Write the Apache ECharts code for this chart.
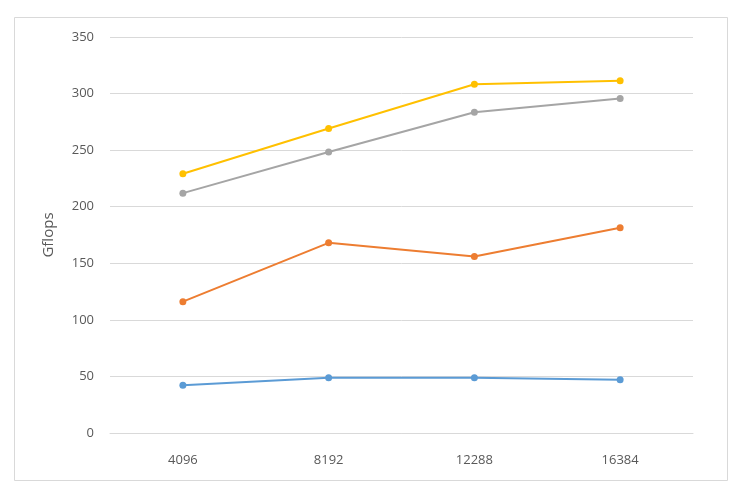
<!DOCTYPE html>
<html>
<head>
<meta charset="utf-8">
<script src="https://cdn.jsdelivr.net/npm/echarts@6/dist/echarts.min.js"></script>
<style>
html,body{margin:0;padding:0;background:#fff;}
#c{width:737px;height:492px;}
</style>
</head>
<body>
<div id="c"></div>
<script>
var categories = ['4096', '8192', '12288', '16384'];
var seriesBlue = [42.3, 48.8, 48.8, 47.0];
var seriesOrange = [116.1, 168.1, 156.0, 181.4];
var seriesGray = [212.0, 248.4, 283.5, 295.7];
var seriesYellow = [229.2, 269.1, 308.3, 311.3];
var yTicks = { min: 0, max: 350, interval: 50 };

var chart = echarts.init(document.getElementById('c'));
function mk(data, color) {
  return {
    type: 'line', data: data, symbol: 'circle', symbolSize: 7,
    lineStyle: { color: color, width: 2 },
    itemStyle: { color: color },
    emphasis: { disabled: true }
  };
}
chart.setOption({
  animation: false,
  backgroundColor: '#fff',
  graphic: [{
    type: 'rect', left: 12, top: 15,
    shape: { width: 713, height: 463 },
    style: { fill: 'none', stroke: '#D9D9D9', lineWidth: 1 }
  }],
  grid: { left: 110, right: 44, top: 37, bottom: 59 },
  xAxis: {
    type: 'category', data: categories, boundaryGap: true,
    axisLine: { lineStyle: { color: '#D9D9D9' } },
    axisTick: { show: false },
    axisLabel: { color: '#595959', fontSize: 13, fontFamily: 'Open Sans', margin: 21 }
  },
  yAxis: {
    type: 'value', min: yTicks.min, max: yTicks.max, interval: yTicks.interval,
    name: 'Gflops', nameLocation: 'middle', nameGap: 54, nameRotate: 90,
    nameTextStyle: { color: '#595959', fontSize: 15, fontFamily: 'Open Sans' },
    axisLine: { show: false }, axisTick: { show: false },
    axisLabel: { color: '#595959', fontSize: 13, fontFamily: 'Open Sans', margin: 16 },
    splitLine: { lineStyle: { color: '#D9D9D9', width: 1 } }
  },
  series: [
    mk(seriesBlue, '#5B9BD5'),
    mk(seriesOrange, '#ED7D31'),
    mk(seriesGray, '#A5A5A5'),
    mk(seriesYellow, '#FFC000')
  ]
});
</script>
</body>
</html>
